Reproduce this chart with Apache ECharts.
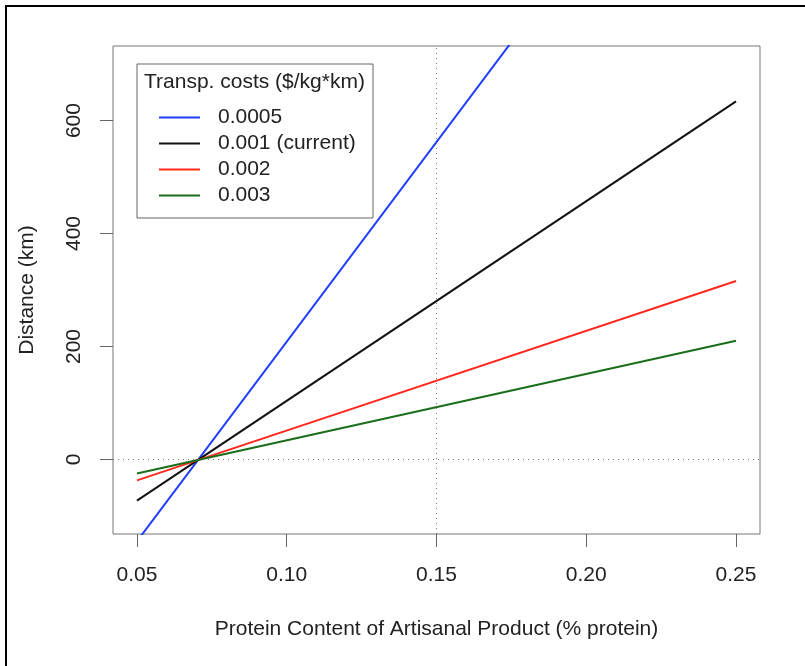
<!DOCTYPE html>
<html lang="en">
<head>
    <meta charset="UTF-8">
    <title>Distance vs protein content</title>
    <style>
        html, body { margin: 0; padding: 0; background: #fff; }
        #myChart { width: 805px; height: 666px; }
    </style>
</head>
<body>
<div id="myChart"></div>
<script src="https://cdn.jsdelivr.net/npm/echarts@6/dist/echarts.min.js"></script>
<script>
    // protein content (end points of each line)
    var protein = [0.05, 0.25];
    // distance (km), one array per transport cost
    var dist0005 = [-145, 1269];
    var dist001 = [-73, 634];
    var dist002 = [-37, 316];
    var dist003 = [-25, 210];

    var seriesNames = ['0.0005', '0.001 (current)', '0.002', '0.003'];
    var seriesColors = ['#1f3dff', '#111111', '#ff2a1f', '#1a6e1a'];
    var seriesValues = [dist0005, dist001, dist002, dist003];

    var xTicks = [0.05, 0.10, 0.15, 0.20, 0.25];
    var yTicks = [0, 200, 400, 600];

    var font = 'Liberation Sans, Arial, Helvetica, sans-serif';
    var chart = echarts.init(document.getElementById('myChart'));

    var series = seriesValues.map(function (vals, i) {
        var s = {
            name: seriesNames[i],
            type: 'line',
            showSymbol: false,
            clip: true,
            lineStyle: { width: 2, color: seriesColors[i] },
            itemStyle: { color: seriesColors[i] },
            data: protein.map(function (p, j) { return [p, vals[j]]; })
        };
        if (i === 0) {
            // dotted reference lines at distance 0 and protein 0.15
            s.markLine = {
                silent: true,
                symbol: 'none',
                label: { show: false },
                lineStyle: { type: [1, 4], color: '#777', width: 1 },
                data: [{ yAxis: 0 }, { xAxis: 0.15 }]
            };
        }
        return s;
    });

    var option = {
        animation: false,
        grid: {
            left: 113, right: 45, top: 46, bottom: 132,
            show: true, borderColor: '#777', borderWidth: 1,
            containLabel: false
        },
        legend: {
            orient: 'vertical',
            left: 154, top: 102,
            icon: 'rect',
            itemWidth: 41, itemHeight: 2,
            itemGap: 5,
            textStyle: { fontFamily: font, fontSize: 21, color: '#222', lineHeight: 20, padding: [0, 0, 0, 13] },
            data: seriesNames
        },
        xAxis: {
            type: 'value',
            min: 0.042, max: 0.258,
            name: 'Protein Content of Artisanal Product (% protein)',
            nameLocation: 'middle', nameGap: 85,
            nameTextStyle: { fontFamily: font, fontSize: 21, color: '#222' },
            axisLine: { show: false, onZero: false },
            axisTick: { show: true, length: 13, customValues: xTicks, lineStyle: { color: '#666' } },
            axisLabel: {
                customValues: xTicks, margin: 31,
                fontFamily: font, fontSize: 21, color: '#222',
                formatter: function (v) { return v.toFixed(2); }
            },
            splitLine: { show: false }
        },
        yAxis: {
            type: 'value',
            min: -132, max: 732,
            name: 'Distance (km)',
            nameLocation: 'middle', nameGap: 75,
            nameTextStyle: { fontFamily: font, fontSize: 21, color: '#222' },
            axisLine: { show: false, onZero: false },
            axisTick: { show: true, length: 13, customValues: yTicks, lineStyle: { color: '#666' } },
            axisLabel: {
                customValues: yTicks, margin: 28, rotate: 90,
                fontFamily: font, fontSize: 21, color: '#222'
            },
            splitLine: { show: false }
        },
        graphic: [
            {
                type: 'polyline', silent: true,
                shape: { points: [[6, 666], [6, 6], [805, 6]] },
                style: { stroke: '#000', lineWidth: 2, fill: null }
            },
            {
                type: 'rect', silent: true, z: 1,
                shape: { x: 137, y: 64, width: 236, height: 154 },
                style: { fill: '#fff', stroke: '#666', lineWidth: 1 }
            },
            {
                type: 'text', silent: true, z: 2,
                left: 144, top: 72,
                style: { text: 'Transp. costs ($/kg*km)', font: '21px ' + font, fill: '#222' }
            }
        ],
        series: series
    };
    chart.setOption(option);
</script>
</body>
</html>
